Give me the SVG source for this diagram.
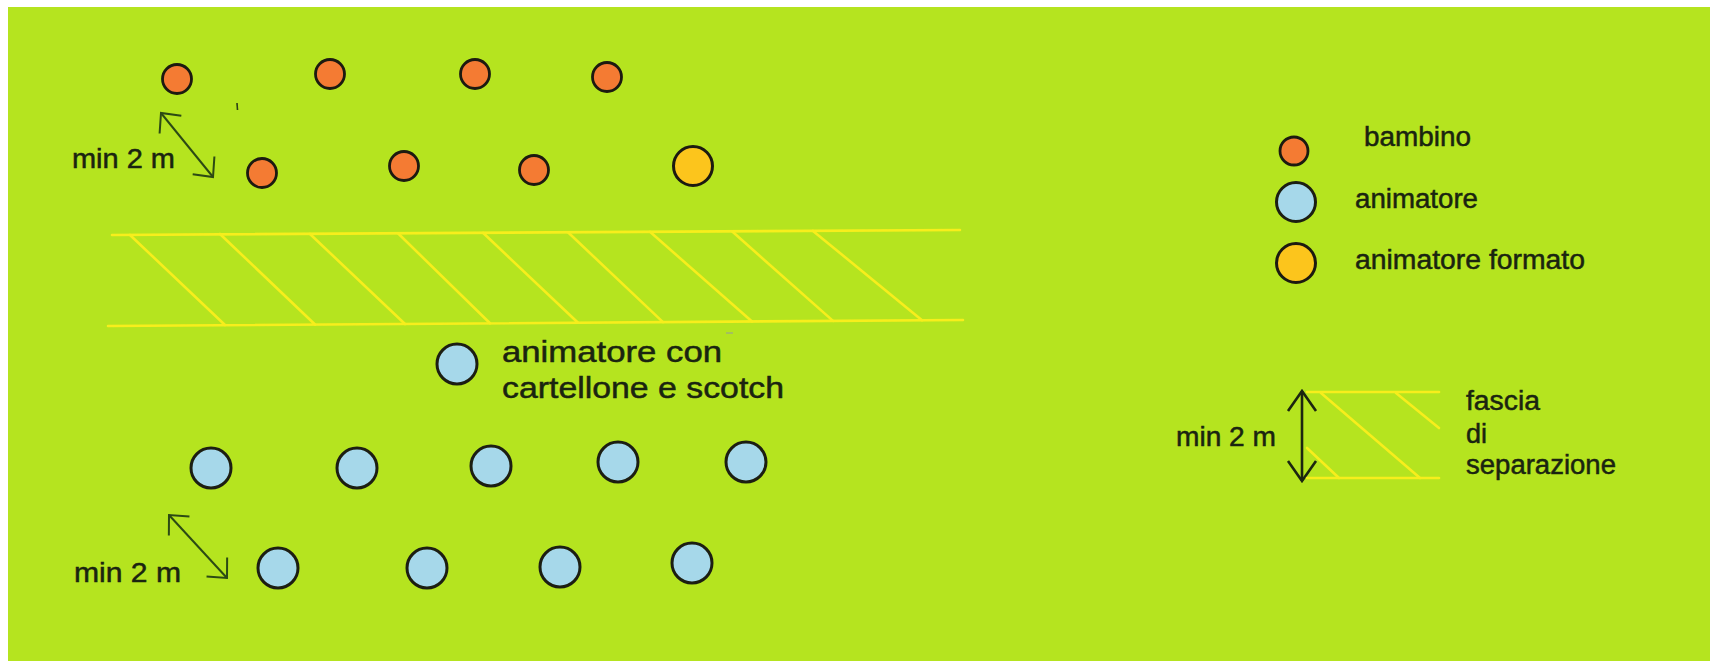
<svg xmlns="http://www.w3.org/2000/svg" width="1710" height="661" viewBox="0 0 1710 661">
  <style>
    .bg { fill: #b5e41f; }
    .bambino { fill: #f47b33; stroke: #1c1a10; stroke-width: 2.8; }
    .anim { fill: #a6d8ea; stroke: #1c1e12; stroke-width: 3; }
    .formato { fill: #fcc51c; stroke: #1c1a10; stroke-width: 3; }
    .band { stroke: #f7ee1c; stroke-width: 2.6; fill: none; stroke-linecap: round; }
    .dim { stroke: #2c4a14; stroke-width: 2; fill: none; }
    .dim-dark { stroke: #1c2610; stroke-width: 2.6; fill: none; }
    .lbl { font-family: "Liberation Sans", Arial, sans-serif; font-size: 27px; fill: #1a2410; stroke: #1a2410; stroke-width: 0.5; }
    .lbl-big { font-family: "Liberation Sans", Arial, sans-serif; font-size: 30px; fill: #1a2410; stroke: #1a2410; stroke-width: 0.5; }
  </style>
  <defs>
    <marker id="vhead" viewBox="-18 -16 20 32" refX="0" refY="0" markerWidth="20" markerHeight="32" markerUnits="userSpaceOnUse" orient="auto-start-reverse">
      <path d="M-15,-14 L0,0 L-15,14" fill="none" stroke="#2c4a14" stroke-width="2"/>
    </marker>
    <marker id="vhead-dark" viewBox="-22 -16 24 32" refX="0" refY="0" markerWidth="24" markerHeight="32" markerUnits="userSpaceOnUse" orient="auto-start-reverse">
      <path d="M-20,-14 L0,0 L-20,14" fill="none" stroke="#1c2610" stroke-width="2.6"/>
    </marker>
  </defs>

  <!-- field -->
  <rect x="0" y="0" width="1710" height="661" fill="#ffffff"/>
  <rect class="bg" x="8" y="7" width="1702" height="654"/>

  <!-- separation band -->
  <g id="fascia">
    <line class="band" x1="112" y1="235" x2="960" y2="230"/>
    <line class="band" x1="108" y1="326" x2="963" y2="320"/>
    <line class="band" x1="130" y1="235" x2="225" y2="325"/>
    <line class="band" x1="220" y1="234" x2="315" y2="324.5"/>
    <line class="band" x1="310" y1="234" x2="405" y2="324"/>
    <line class="band" x1="398" y1="233.3" x2="490" y2="323.3"/>
    <line class="band" x1="483" y1="232.8" x2="578" y2="322.7"/>
    <line class="band" x1="568" y1="232.3" x2="663" y2="322.1"/>
    <line class="band" x1="650" y1="231.8" x2="752" y2="321.5"/>
    <line class="band" x1="732" y1="231.3" x2="833" y2="320.9"/>
    <line class="band" x1="813" y1="230.9" x2="922" y2="320.3"/>
  </g>

  <!-- children -->
  <g id="bambini">
    <circle class="bambino" cx="177" cy="79" r="14.5"/>
    <circle class="bambino" cx="330" cy="74" r="14.5"/>
    <circle class="bambino" cx="475" cy="74" r="14.5"/>
    <circle class="bambino" cx="607" cy="77" r="14.5"/>
    <circle class="bambino" cx="262" cy="173" r="14.5"/>
    <circle class="bambino" cx="404" cy="166" r="14.5"/>
    <circle class="bambino" cx="534" cy="170" r="14.5"/>
  </g>
  <g id="animatore-formato">
    <circle class="formato" cx="693" cy="166" r="19.5"/>
  </g>
  <path d="M237,103 L237.5,110" stroke="#2c4016" stroke-width="1.6"/>
  <path d="M726,333 L733,333" stroke="#9aa888" stroke-width="1.2"/>

  <!-- animator with poster and tape -->
  <g id="animatore-cartellone">
    <circle class="anim" cx="457" cy="364" r="20"/>
    <text class="lbl-big" x="502" y="362" textLength="220" lengthAdjust="spacingAndGlyphs">animatore con</text>
    <text class="lbl-big" x="502" y="398" textLength="282" lengthAdjust="spacingAndGlyphs">cartellone e scotch</text>
  </g>

  <!-- animators -->
  <g id="animatori">
    <circle class="anim" cx="211" cy="468" r="20"/>
    <circle class="anim" cx="357" cy="468" r="20"/>
    <circle class="anim" cx="491" cy="466" r="20"/>
    <circle class="anim" cx="618" cy="462" r="20"/>
    <circle class="anim" cx="746" cy="462" r="20"/>
    <circle class="anim" cx="278" cy="568" r="20"/>
    <circle class="anim" cx="427" cy="568" r="20"/>
    <circle class="anim" cx="560" cy="567" r="20"/>
    <circle class="anim" cx="692" cy="563" r="20"/>
  </g>

  <!-- distance markers -->
  <g id="connectors">
    <line class="dim" x1="161" y1="113" x2="213" y2="177" marker-start="url(#vhead)" marker-end="url(#vhead)"/>
    <line class="dim" x1="169" y1="515" x2="227" y2="578" marker-start="url(#vhead)" marker-end="url(#vhead)"/>
    <line class="dim-dark" x1="1302" y1="391" x2="1302" y2="481" marker-start="url(#vhead-dark)" marker-end="url(#vhead-dark)"/>
  </g>
  <g id="label-dist-top">
    <text class="lbl" x="72" y="168" textLength="103" lengthAdjust="spacingAndGlyphs">min 2 m</text>
  </g>
  <g id="label-dist-bottom">
    <text class="lbl" x="74" y="582" textLength="107" lengthAdjust="spacingAndGlyphs">min 2 m</text>
  </g>

  <!-- legend -->
  <g id="legenda-bambino">
    <circle class="bambino" cx="1294" cy="151" r="14"/>
    <text class="lbl" x="1364" y="146" textLength="107" lengthAdjust="spacingAndGlyphs">bambino</text>
  </g>
  <g id="legenda-animatore">
    <circle class="anim" cx="1296" cy="202" r="19.5"/>
    <text class="lbl" x="1355" y="208" textLength="123" lengthAdjust="spacingAndGlyphs">animatore</text>
  </g>
  <g id="legenda-formato">
    <circle class="formato" cx="1296" cy="263" r="19.5"/>
    <text class="lbl" x="1355" y="269" textLength="230" lengthAdjust="spacingAndGlyphs">animatore formato</text>
  </g>
  <g id="legenda-fascia">
    <line class="band" x1="1307" y1="392" x2="1439" y2="392"/>
    <line class="band" x1="1307" y1="478" x2="1439" y2="478"/>
    <line class="band" x1="1321" y1="393" x2="1420" y2="478"/>
    <line class="band" x1="1396" y1="393" x2="1439" y2="428"/>
    <line class="band" x1="1307" y1="448" x2="1339" y2="478"/>
    <text class="lbl" x="1176" y="446" textLength="100" lengthAdjust="spacingAndGlyphs">min 2 m</text>
    <text class="lbl" x="1466" y="410" textLength="74" lengthAdjust="spacingAndGlyphs">fascia</text>
    <text class="lbl" x="1466" y="443">di</text>
    <text class="lbl" x="1466" y="474" textLength="150" lengthAdjust="spacingAndGlyphs">separazione</text>
  </g>
</svg>
